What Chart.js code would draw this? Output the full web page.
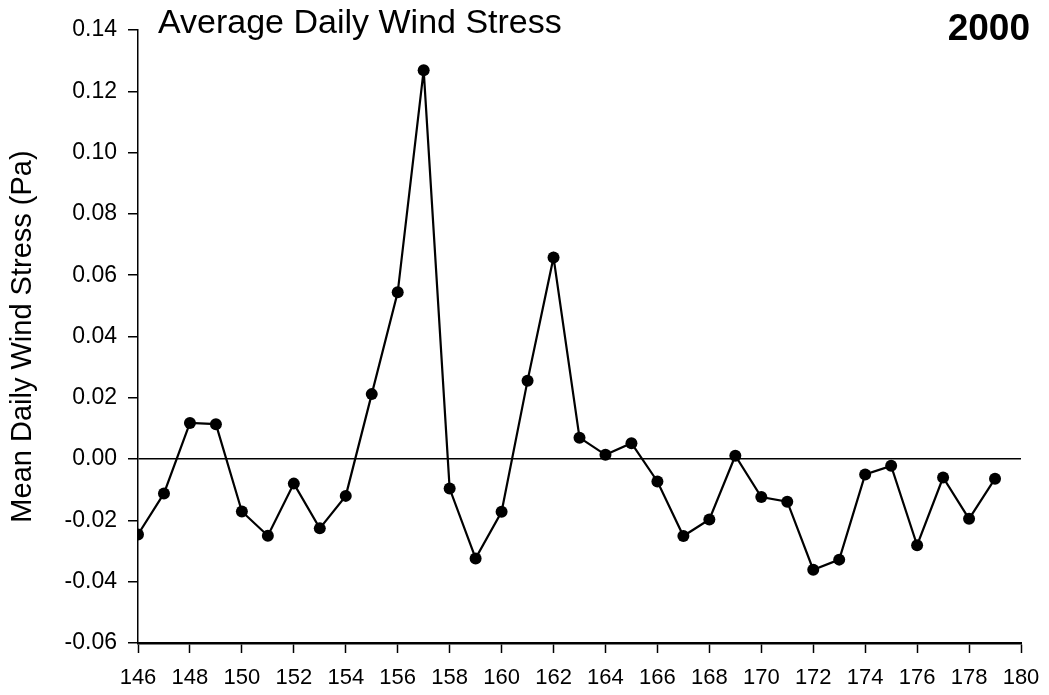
<!DOCTYPE html>
<html>
<head>
<meta charset="utf-8">
<script src="https://cdn.jsdelivr.net/npm/chart.js@4.4.1/dist/chart.umd.min.js"></script>
<style>
  html, body { margin: 0; padding: 0; background: #fff; }
  #wrap { width: 1049px; height: 695px; }
</style>
</head>
<body>
<div id="wrap"><canvas id="wind-stress-chart" width="1049" height="695"></canvas></div>
<script>
// Day of year
const days = [146, 147, 148, 149, 150, 151, 152, 153, 154, 155, 156, 157, 158, 159, 160, 161, 162,
  163, 164, 165, 166, 167, 168, 169, 170, 171, 172, 173, 174, 175, 176, 177, 178, 179];

// Mean daily wind stress (Pa)
const stress = [-0.0246, -0.0112, 0.0118, 0.0114, -0.0171, -0.0250, -0.0080, -0.0226, -0.0120, 0.0212,
  0.0544, 0.1269, -0.0096, -0.0324, -0.0172, 0.0256, 0.0658,
  0.0070, 0.0014, 0.0052, -0.0073, -0.0251, -0.0197, 0.0011, -0.0124, -0.0139, -0.0361, -0.0328,
  -0.0050, -0.0022, -0.0281, -0.0060, -0.0195, -0.0064];

const xTicks = { min: 146, max: 180, step: 2 };
const yTicks = { min: -0.06, max: 0.14, step: 0.02 };

const chartTitle = 'Average Daily Wind Stress';
const yearLabel = '2000';
const yAxisTitle = 'Mean Daily Wind Stress (Pa)';

const FONT = "'Liberation Sans', Arial, sans-serif";

// title and year drawn on top of the chart
const headerText = {
  id: 'headerText',
  afterDraw(chart) {
    const ctx = chart.ctx;
    ctx.save();
    ctx.fillStyle = '#000';
    ctx.textBaseline = 'alphabetic';
    ctx.font = '34px ' + FONT;
    ctx.textAlign = 'left';
    ctx.fillText(chartTitle, 158, 33);
    ctx.font = 'bold 37px ' + FONT;
    ctx.textAlign = 'right';
    ctx.fillText(yearLabel, 1030, 40);
    ctx.restore();
  }
};

const ctx = document.getElementById('wind-stress-chart').getContext('2d');
new Chart(ctx, {
  type: 'line',
  data: {
    datasets: [{
      label: 'Wind stress',
      data: days.map((d, i) => ({ x: d, y: stress[i] })),
      borderColor: '#000',
      backgroundColor: '#000',
      borderWidth: 2.2,
      pointRadius: 6,
      pointBackgroundColor: '#000',
      pointBorderColor: '#000',
      pointBorderWidth: 0,
      tension: 0,
      fill: false
    }]
  },
  options: {
    responsive: false,
    animation: false,
    layout: { padding: { top: 30, right: 28, left: 0, bottom: 0 } },
    plugins: {
      legend: { display: false },
      tooltip: { enabled: false }
    },
    scales: {
      x: {
        type: 'linear',
        min: xTicks.min,
        max: xTicks.max,
        afterFit(scale) {
          scale.height = 52;
          scale.paddingLeft = 0;
          scale.paddingRight = 0;
        },
        ticks: {
          stepSize: xTicks.step,
          color: '#000',
          padding: 12,
          font: { family: FONT, size: 22 }
        },
        grid: {
          drawOnChartArea: false,
          drawTicks: true,
          tickLength: 10,
          tickColor: '#000',
          tickWidth: 1.5
        },
        border: { display: true, color: '#000', width: 2.5 }
      },
      y: {
        min: yTicks.min,
        max: yTicks.max,
        afterFit(scale) { scale.width = 138; },
        ticks: {
          stepSize: yTicks.step,
          color: '#000',
          padding: 11,
          font: { family: FONT, size: 23 },
          callback: v => v.toFixed(2)
        },
        grid: {
          drawOnChartArea: true,
          color: c => (c.tick && Math.abs(c.tick.value) < 1e-9) ? '#000' : 'rgba(0,0,0,0)',
          lineWidth: 1.5,
          drawTicks: true,
          tickLength: 10,
          tickColor: '#000',
          tickWidth: 1.5
        },
        border: { display: true, color: '#000', width: 1.5 },
        title: {
          display: true,
          text: yAxisTitle,
          color: '#000',
          font: { family: FONT, size: 29 },
          padding: { top: 6, bottom: 0 }
        }
      }
    }
  },
  plugins: [headerText]
});
</script>
</body>
</html>
